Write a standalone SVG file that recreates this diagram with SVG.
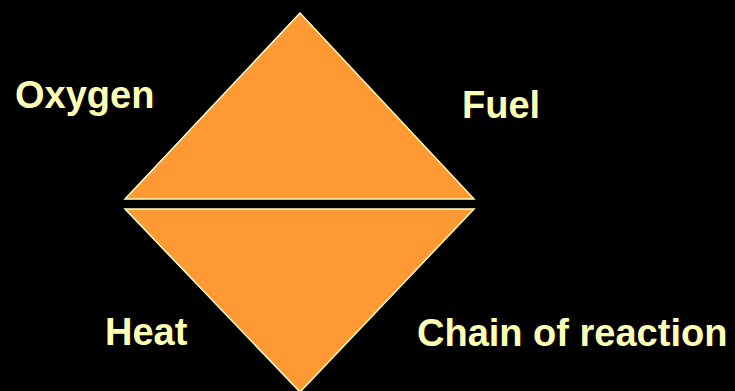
<svg xmlns="http://www.w3.org/2000/svg" width="735" height="391" viewBox="0 0 735 391">
<style>
.tri{fill:#ff9933;stroke:#ffffc0;stroke-width:1.5;stroke-linejoin:miter}
.lbl{font-family:"Liberation Sans",Arial,sans-serif;font-weight:bold;font-size:38px;fill:#ffffb3}
</style>
<rect width="735" height="391" fill="#000000"/>
<g id="top-triangle"><polygon class="tri" points="300,13 125,199 474,199"/></g>
<g id="bottom-triangle"><polygon class="tri" points="125,209 474,209 300,392"/></g>
<g id="oxygen"><text class="lbl" x="15" y="108">Oxygen</text></g>
<g id="fuel"><text class="lbl" x="462" y="118">Fuel</text></g>
<g id="heat"><text class="lbl" x="105" y="345">Heat</text></g>
<g id="chain"><text class="lbl" x="417" y="346">Chain of reaction</text></g>
<g id="connectors"></g>
</svg>
